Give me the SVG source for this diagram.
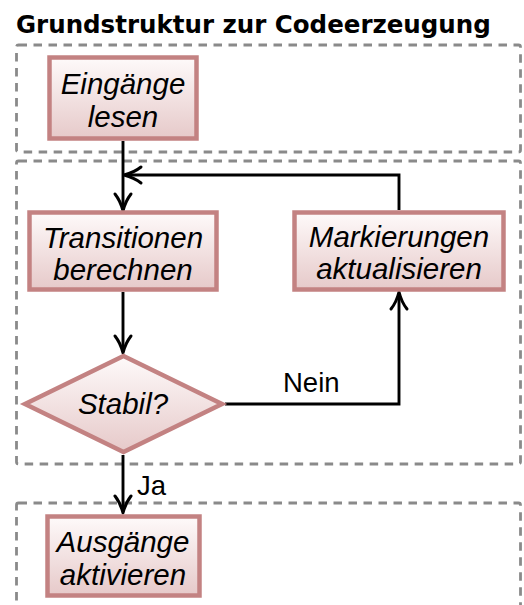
<svg xmlns="http://www.w3.org/2000/svg" width="524" height="605" viewBox="0 0 524 605">
<style>
.title{font-family:"DejaVu Sans",sans-serif;font-weight:bold;font-size:24.5px;fill:#000}
.frame{fill:none;stroke:#8a8a8a;stroke-width:2.8;stroke-dasharray:8.5 6.5}
.box{stroke:#c38282;stroke-width:4.5;fill:url(#g)}
.nt{font-family:"Liberation Sans",Arial,sans-serif;font-style:italic;font-size:29.5px;fill:#000;text-anchor:middle}
.lab{font-family:"Liberation Sans",Arial,sans-serif;font-size:27.5px;fill:#000}
.con{fill:none;stroke:#000;stroke-width:2.9}
</style>
<defs>
<linearGradient id="g" x1="0" y1="0" x2="0" y2="1">
<stop offset="0" stop-color="#fefafa"/>
<stop offset="1" stop-color="#e6c9c9"/>
</linearGradient>
<marker id="ah" markerUnits="userSpaceOnUse" orient="auto" overflow="visible" refX="0" refY="0" markerWidth="20" markerHeight="20">
<path d="M -15 -8 C -9 -3.2 -2 -1 2 0 C -2 1 -9 3.2 -15 8" fill="none" stroke="#000" stroke-width="3" stroke-linecap="round" stroke-linejoin="round"/>
</marker>
</defs>
<text class="title" x="16" y="33">Grundstruktur zur Codeerzeugung</text>
<g id="frames">
<rect class="frame" x="16.5" y="45" width="504" height="107" rx="2"/>
<rect class="frame" x="16.5" y="161" width="504" height="303" rx="2"/>
<rect class="frame" x="16.5" y="503" width="504" height="140" rx="2"/>
</g>
<g id="connectors">
<path class="con" d="M123 141 V209" marker-end="url(#ah)"/>
<path class="con" d="M399 210 V175 H126" marker-end="url(#ah)"/>
<path class="con" d="M123 292 V351" marker-end="url(#ah)"/>
<path class="con" d="M225 404 H399 V294" marker-end="url(#ah)"/>
<path class="con" d="M123 455 V511" marker-end="url(#ah)"/>
<text class="lab" x="283" y="392">Nein</text>
<text class="lab" x="137" y="495">Ja</text>
</g>
<g id="eingaenge">
<rect class="box" x="49.5" y="57.5" width="147" height="81"/>
<text class="nt" x="123" y="94">Eingänge</text>
<text class="nt" x="123" y="127">lesen</text>
</g>
<g id="transitionen">
<rect class="box" x="29.5" y="212.5" width="187" height="77"/>
<text class="nt" x="123" y="248">Transitionen</text>
<text class="nt" x="123" y="280">berechnen</text>
</g>
<g id="markierungen">
<rect class="box" x="294.5" y="212.5" width="209" height="77"/>
<text class="nt" x="399" y="247">Markierungen</text>
<text class="nt" x="399" y="279">aktualisieren</text>
</g>
<g id="stabil">
<polygon class="box" points="123.5,356 222,404 123.5,452 25,404"/>
<text class="nt" x="123" y="414">Stabil?</text>
</g>
<g id="ausgaenge">
<rect class="box" x="47.5" y="516.5" width="152" height="79"/>
<text class="nt" x="123" y="552">Ausgänge</text>
<text class="nt" x="123" y="585">aktivieren</text>
</g>
</svg>
